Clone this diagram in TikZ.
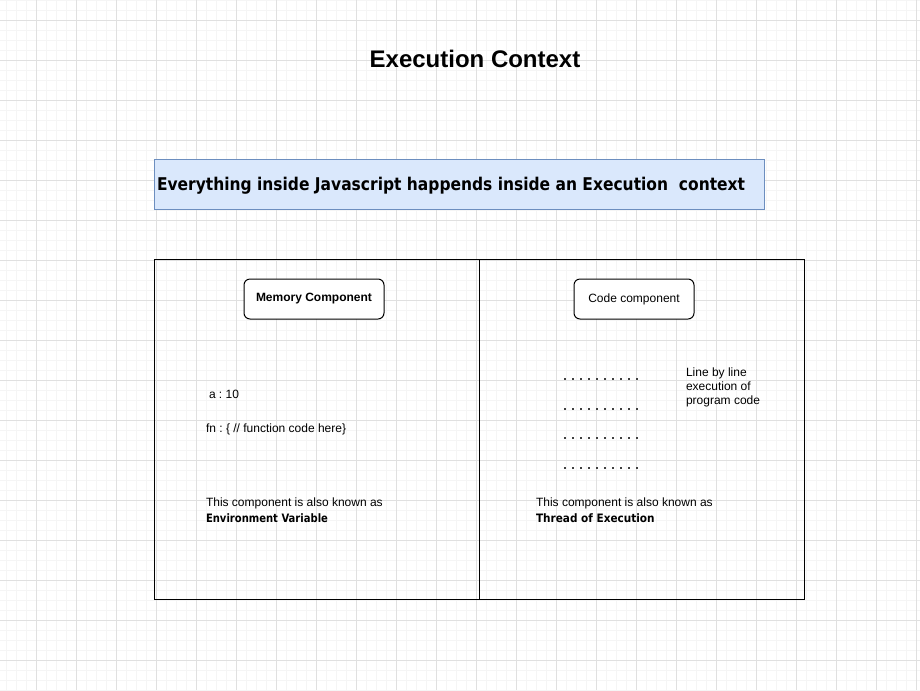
\documentclass[tikz,border=0pt]{standalone}
\usepackage{fontspec}
\setmainfont{Liberation Sans}
\newfontfamily\handfont{DejaVu Sans}
\frenchspacing
\begin{document}
\begin{tikzpicture}[x=0.75pt,y=-0.75pt,
  every node/.style={inner sep=0pt, outer sep=0pt},
  gridminor/.style={draw=black!4, line width=0.75pt},
  gridmajor/.style={draw=black!12, line width=0.75pt},
  frame/.style={draw=black, line width=0.75pt},
  banner/.style={draw={rgb,255:red,108;green,142;blue,191}, fill={rgb,255:red,218;green,232;blue,252}, line width=0.75pt},
  compbox/.style={draw=black, line width=0.75pt, rounded corners=4.5pt, fill=white},
  plain/.style={font=\fontsize{9}{10.5}\selectfont, anchor=west, align=left},
  dotrow/.style={fill=black!75}
]
% page and grid
\useasboundingbox (0,0) rectangle (920,690);
\fill[white] (0,0) rectangle (920,690);
\foreach \x in {6,16,...,916} \draw[gridminor] (\x,0) -- (\x,690);
\foreach \y in {0,10,...,690} \draw[gridminor] (0,\y) -- (920,\y);
\foreach \x in {36,76,...,916} \draw[gridmajor] (\x,0) -- (\x,690);
\foreach \y in {20,60,...,660} \draw[gridmajor] (0,\y) -- (920,\y);

% title
\node[font=\bfseries\fontsize{18}{20}\selectfont] (title) at (475,59) {Execution Context};

% banner
\draw[banner] (154,159) rectangle (764,209);
\node[anchor=west] (bannertext) at (157,186) {\resizebox{441pt}{10pt}{\handfont\bfseries Everything inside Javascript happends inside an Execution\ \ context}};

% two halves
\draw[frame] (154,259) rectangle (479,599);
\draw[frame] (479,259) rectangle (804,599);

% component headers
\node[compbox, minimum width=105pt, minimum height=30pt, font=\bfseries\fontsize{9}{10}\selectfont] (mem) at (314,299) {Memory Component};
\node[compbox, minimum width=90pt, minimum height=30pt, font=\fontsize{9}{10}\selectfont] (code) at (634,299) {Code component};

% memory contents
\node[plain] (a) at (209,394) {a : 10};
\node[plain] (fn) at (206,429) {fn : \{ // function code here\}};
\node[plain] (memnote) at (206,503) {This component is also known as};
\node[anchor=west] (envvar) at (206,518) {\resizebox{91.5pt}{6.6pt}{\handfont\bfseries Environment Variable}};

% code contents: lines of the program
\foreach \y in {379,408.5,438,467.5}
  \foreach \k in {0,...,9}
    \fill[dotrow] (565+8*\k-1,\y-1) rectangle (565+8*\k+1,\y+1);
\node[plain, anchor=north west, font=\fontsize{9}{10.5}\selectfont] (linebyline) at (686,368) {Line by line\\execution of\\program code};
\node[plain] (codenote) at (536,503) {This component is also known as};
\node[anchor=west] (thread) at (536,518) {\resizebox{89pt}{6.6pt}{\handfont\bfseries Thread of Execution}};
\end{tikzpicture}
\end{document}
